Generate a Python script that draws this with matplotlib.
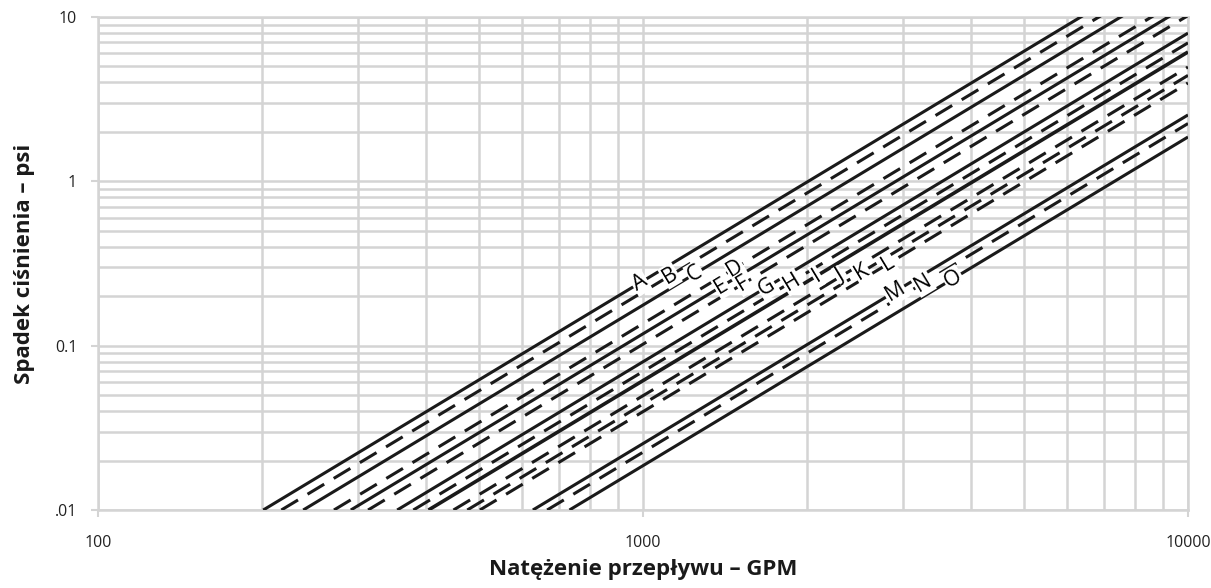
import numpy as np
import matplotlib
matplotlib.use("Agg")
import matplotlib.pyplot as plt
from matplotlib.ticker import FixedLocator, FixedFormatter, NullFormatter, LogLocator

# ---- data ----
curve_labels = list("ABCDEFGHIJKLMNO")
# flow (GPM) at which each curve gives 0.01 psi pressure drop (dp ~ Q^2)
flow_at_001psi = [201, 217, 238, 271, 291, 313, 354, 379, 404, 449, 476, 502, 628, 667, 733]
curve_styles = ["solid", "dashed", "solid", "dashed", "solid", "dashed", "solid", "dashed",
                "solid", "dashed", "dashed", "dashed", "solid", "dashed", "solid"]
# flow (GPM) where each curve label sits
label_flow = [987, 1121, 1246, 1475, 1394, 1526, 1687, 1874, 2083, 2299, 2519, 2819, 2900, 3265, 3706]

x_ticks = [100, 1000, 10000]
x_ticklabels = ["100", "1000", "10000"]
y_ticks = [0.01, 0.1, 1, 10]
y_ticklabels = [".01", "0.1", "1", "10"]

x_label = "Natężenie przepływu – GPM"
y_label = "Spadek ciśnienia – psi"

plt.rcParams["font.family"] = ["Open Sans", "DejaVu Sans"]
plt.rcParams["lines.scale_dashes"] = False

W, H = 1211, 588
fig = plt.figure(figsize=(W / 100, H / 100), dpi=100)
ax = fig.add_axes([98 / W, 1 - 510 / H, (1188 - 98) / W, (510 - 17) / H])
ax.set_xscale("log")
ax.set_yscale("log")
ax.set_xlim(100, 10000)
ax.set_ylim(0.01, 10)

grid_c = "#d4d4d4"
ax.xaxis.set_major_locator(FixedLocator(x_ticks))
ax.xaxis.set_major_formatter(FixedFormatter(x_ticklabels))
ax.yaxis.set_major_locator(FixedLocator(y_ticks))
ax.yaxis.set_major_formatter(FixedFormatter(y_ticklabels))
ax.xaxis.set_minor_locator(LogLocator(base=10, subs=np.arange(2, 10)))
ax.yaxis.set_minor_locator(LogLocator(base=10, subs=np.arange(2, 10)))
ax.xaxis.set_minor_formatter(NullFormatter())
ax.yaxis.set_minor_formatter(NullFormatter())
ax.grid(which="both", color=grid_c, lw=1.8, zorder=0)
ax.set_axisbelow(True)
for s in ax.spines.values():
    s.set_color(grid_c)
    s.set_linewidth(1.8)
ax.tick_params(which="major", length=5, width=1.5, color=grid_c, labelsize=11.5, labelcolor="#222222")
ax.tick_params(axis="x", which="major", pad=13)
ax.tick_params(axis="y", which="major", pad=10)
ax.tick_params(which="minor", length=0)

ax.set_xlabel(x_label, fontsize=16, fontweight="bold", color="#1a1a1a", labelpad=6)
ax.set_ylabel(y_label, fontsize=16, fontweight="bold", color="#1a1a1a", labelpad=14)

# rotation of curves in screen space
fig.canvas.draw()
p0 = ax.transData.transform((1000, 0.1))
p1 = ax.transData.transform((10000, 10))
angle = np.degrees(np.arctan2(p1[1] - p0[1], p1[0] - p0[0]))

for name, q0, st, lf in zip(curve_labels, flow_at_001psi, curve_styles, label_flow):
    q = np.array([q0, 10000.0])
    dp = 0.01 * (q / q0) ** 2
    ls = "-" if st == "solid" else (0, (14, 8))
    lw = 2.6 if name == "I" else 2.2
    ax.plot(q, dp, color="#1a1a1a", lw=lw, linestyle=ls, solid_capstyle="butt",
            dash_capstyle="butt", zorder=3)
    ax.text(lf, 0.01 * (lf / q0) ** 2, name, rotation=angle, rotation_mode="anchor",
            ha="center", va="center", fontsize=15.5, fontweight="medium", color="#000000",
            zorder=4, bbox=dict(facecolor="white", edgecolor="none", pad=0.8))

fig.savefig("out.png", dpi=100)
